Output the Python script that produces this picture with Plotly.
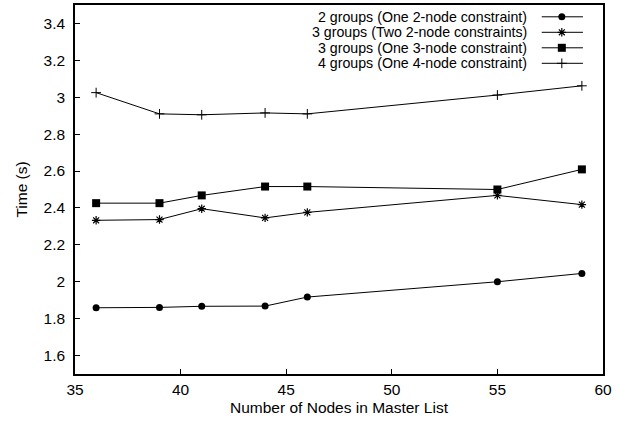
import plotly.graph_objects as go

# Number of nodes in the master list
nodes = [36, 39, 41, 44, 46, 55, 59]

# Run times (s) per grouping configuration
two_groups_one_2node = [1.859, 1.861, 1.867, 1.868, 1.917, 2.000, 2.045]
three_groups_two_2node = [2.333, 2.337, 2.396, 2.346, 2.376, 2.468, 2.418]
three_groups_one_3node = [2.426, 2.426, 2.468, 2.516, 2.516, 2.500, 2.609]
four_groups_one_4node = [3.025, 2.910, 2.905, 2.915, 2.910, 3.012, 3.062]

series_names = [
    "2 groups (One 2-node constraint)",
    "3 groups (Two 2-node constraints)",
    "3 groups (One 3-node constraint)",
    "4 groups (One 4-node constraint)",
]
series_values = [
    two_groups_one_2node,
    three_groups_two_2node,
    three_groups_one_3node,
    four_groups_one_4node,
]
marker_styles = [
    dict(symbol="circle", size=7),
    dict(symbol="asterisk-open", size=7, line=dict(width=1.2, color="black")),
    dict(symbol="square", size=8),
    dict(symbol="cross-thin-open", size=7, line=dict(width=1, color="black")),
]

x_ticks = [35, 40, 45, 50, 55, 60]
y_ticks = [1.6, 1.8, 2.0, 2.2, 2.4, 2.6, 2.8, 3.0, 3.2, 3.4]
y_tick_text = ["1.6", "1.8", "2", "2.2", "2.4", "2.6", "2.8", "3", "3.2", "3.4"]

FONT = "Liberation Sans, Arial, Helvetica, sans-serif"
FS = 15.5
KEY_FS = 14.2
INK = "#000000"

fig = go.Figure()

for name, vals, mk in zip(series_names, series_values, marker_styles):
    fig.add_trace(go.Scatter(
        x=nodes, y=vals, mode="lines+markers", name=name,
        line=dict(color=INK, width=1),
        marker=dict(color=INK, **mk),
        showlegend=False,
    ))

# Key drawn in the upper-right corner: text on the left, sample on the right
key_rows = [0.968, 0.926, 0.884, 0.842]
key_line_x = [0.884, 0.962]
key_mark_x = 0.922
key_text_x = 0.858
for name, mk, ry in zip(series_names, marker_styles, key_rows):
    fig.add_trace(go.Scatter(
        x=key_line_x, y=[ry, ry], mode="lines",
        line=dict(color=INK, width=1),
        xaxis="x2", yaxis="y2", showlegend=False, hoverinfo="skip",
    ))
    fig.add_trace(go.Scatter(
        x=[key_mark_x], y=[ry], mode="markers",
        marker=dict(color=INK, **mk),
        xaxis="x2", yaxis="y2", showlegend=False, hoverinfo="skip",
    ))
    fig.add_annotation(
        x=key_text_x, y=ry, xref="x2", yref="y2", text=name,
        showarrow=False, xanchor="right", yanchor="middle",
        font=dict(family=FONT, size=KEY_FS, color=INK),
        borderpad=0,
    )

fig.update_layout(
    width=621, height=423,
    margin=dict(l=75, r=18, t=3, b=49),
    paper_bgcolor="white", plot_bgcolor="white",
    font=dict(family=FONT, size=FS, color=INK),
    xaxis=dict(
        range=[35, 60], tickvals=x_ticks, ticktext=[str(v) for v in x_ticks],
        ticks="inside", ticklen=5, tickcolor=INK, tickwidth=1,
        showgrid=False, zeroline=False,
        showline=True, linecolor=INK, linewidth=1.5, mirror=True,
        title=dict(text="Number of Nodes in Master List", standoff=5,
                   font=dict(family=FONT, size=FS, color=INK)),
        tickfont=dict(family=FONT, size=FS, color=INK),
        ticklabelstandoff=1,
    ),
    yaxis=dict(
        range=[1.5, 3.5], tickvals=y_ticks, ticktext=y_tick_text,
        ticks="inside", ticklen=5, tickcolor=INK, tickwidth=1,
        showgrid=False, zeroline=False,
        showline=True, linecolor=INK, linewidth=1.5, mirror=True,
        title=dict(text="Time (s)", standoff=12,
                   font=dict(family=FONT, size=FS, color=INK)),
        tickfont=dict(family=FONT, size=FS, color=INK),
        ticklabelstandoff=5,
    ),
    xaxis2=dict(range=[0, 1], overlaying="x", visible=False, fixedrange=True),
    yaxis2=dict(range=[0, 1], overlaying="y", visible=False, fixedrange=True),
)

fig.write_html("out.html")
